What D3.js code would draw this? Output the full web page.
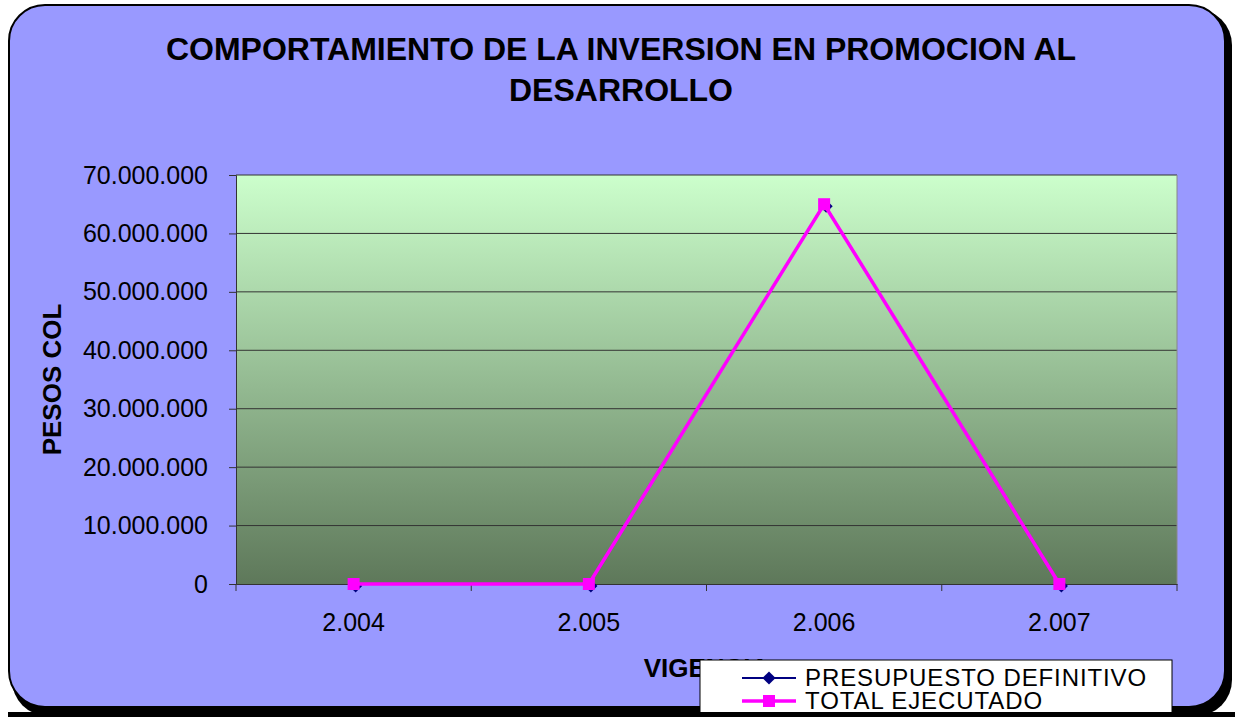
<!DOCTYPE html>
<html>
<head>
<meta charset="utf-8">
<script src="https://cdn.jsdelivr.net/npm/d3@7"></script>
<style>
  html, body { margin: 0; padding: 0; background: #ffffff; }
  svg { display: block; font-family: "Liberation Sans", Arial, sans-serif; }
</style>
</head>
<body>
<svg id="chart" width="1235" height="717"></svg>
<script>
// Inversión en promoción al desarrollo por vigencia
const categories = ["2.004", "2.005", "2.006", "2.007"];
const presupuestoDefinitivo = [0, 0, 65000000, 0];
const totalEjecutado = [0, 0, 65000000, 0];
const yTicks = [0, 10000000, 20000000, 30000000, 40000000, 50000000, 60000000, 70000000];
const seriesNames = ["PRESUPUESTO DEFINITIVO", "TOTAL EJECUTADO"];
const titleLines = ["COMPORTAMIENTO DE LA INVERSION EN PROMOCION AL", "DESARROLLO"];

const svg = d3.select("#chart");
const W = 1235, H = 717;
const plot = { left: 236, right: 1177, top: 175, bottom: 584 };
const FONT = "'Liberation Sans', Arial, sans-serif";

const defs = svg.append("defs");
const grad = defs.append("linearGradient")
  .attr("id", "plotFill").attr("x1", 0).attr("y1", 0).attr("x2", 0).attr("y2", 1);
grad.append("stop").attr("offset", "0%").attr("stop-color", "#ccffcc");
grad.append("stop").attr("offset", "100%").attr("stop-color", "#5e785a");

// chart area frame with drop shadow
svg.append("rect")
  .attr("x", 12).attr("y", 9).attr("width", W - 15).attr("height", H - 10)
  .attr("rx", 36).attr("fill", "#000");
svg.append("rect")
  .attr("x", 9).attr("y", 5).attr("width", W - 19).attr("height", H - 15)
  .attr("rx", 36).attr("fill", "#9999ff").attr("stroke", "#000").attr("stroke-width", 2);

// title
svg.append("g").selectAll("text").data(titleLines).join("text")
  .attr("x", 621).attr("y", (d, i) => 60 + i * 41)
  .attr("text-anchor", "middle")
  .attr("font-size", 32).attr("font-weight", "bold").attr("fill", "#000")
  .text(d => d);

const x = d3.scaleBand().domain(categories).range([plot.left, plot.right]);
const y = d3.scaleLinear().domain([0, 70000000]).range([plot.bottom, plot.top]);

// plot background
svg.append("rect")
  .attr("x", plot.left).attr("y", plot.top)
  .attr("width", plot.right - plot.left).attr("height", plot.bottom - plot.top)
  .attr("fill", "url(#plotFill)");

// gridlines
svg.append("g").selectAll("line").data(yTicks.filter(v => v > 0)).join("line")
  .attr("x1", plot.left).attr("x2", plot.right)
  .attr("y1", d => y(d)).attr("y2", d => y(d))
  .attr("stroke", "#333").attr("stroke-width", 1);

// plot border right side (light)
svg.append("line")
  .attr("x1", plot.right).attr("x2", plot.right).attr("y1", plot.top).attr("y2", plot.bottom)
  .attr("stroke", "#888").attr("stroke-width", 1);

const fmt = v => d3.format(",")(v).replace(/,/g, ".");

// y axis
const yAxis = svg.append("g")
  .attr("transform", `translate(${plot.left},0)`)
  .call(d3.axisLeft(y).tickValues(yTicks).tickFormat(fmt).tickSize(7).tickPadding(21));
yAxis.select(".domain").attr("stroke", "#333");
yAxis.selectAll(".tick line").attr("stroke", "#333");
yAxis.selectAll("text").attr("font-size", 25).attr("fill", "#000").attr("font-family", FONT);

// x axis
const xAxis = svg.append("g")
  .attr("transform", `translate(0,${plot.bottom})`)
  .call(d3.axisBottom(x).tickSize(0).tickPadding(29));
xAxis.select(".domain").attr("stroke", "#333");
xAxis.selectAll("text").attr("font-size", 25).attr("fill", "#000").attr("font-family", FONT);
// category boundary ticks
svg.append("g").selectAll("line")
  .data(categories.map(c => x(c)).concat([plot.right]))
  .join("line")
  .attr("x1", d => d).attr("x2", d => d)
  .attr("y1", plot.bottom).attr("y2", plot.bottom + 7)
  .attr("stroke", "#333");

// axis titles
svg.append("text")
  .attr("transform", `translate(61,${(plot.top + plot.bottom) / 2}) rotate(-90)`)
  .attr("text-anchor", "middle")
  .attr("font-size", 26).attr("font-weight", "bold").text("PESOS COL");
svg.append("text")
  .attr("x", (plot.left + plot.right) / 2).attr("y", 677)
  .attr("text-anchor", "middle")
  .attr("font-size", 26).attr("font-weight", "bold").text("VIGENCIA");

const cx = c => x(c) + x.bandwidth() / 2;
const line = d3.line().x((d, i) => cx(categories[i])).y(d => y(d));

// series 1: presupuesto definitivo
svg.append("path").datum(presupuestoDefinitivo)
  .attr("d", line).attr("fill", "none").attr("stroke", "#000080").attr("stroke-width", 2);
svg.append("g").selectAll("path").data(presupuestoDefinitivo).join("path")
  .attr("d", d3.symbol().type(d3.symbolDiamond2).size(110))
  .attr("transform", (d, i) => `translate(${cx(categories[i]) + 2},${y(d) + 2})`)
  .attr("fill", "#000080");

// series 2: total ejecutado
svg.append("path").datum(totalEjecutado)
  .attr("d", line).attr("fill", "none").attr("stroke", "#ff00ff").attr("stroke-width", 3.5);
svg.append("g").selectAll("rect").data(totalEjecutado).join("rect")
  .attr("x", (d, i) => cx(categories[i]) - 6).attr("y", d => y(d) - 6)
  .attr("width", 12).attr("height", 12).attr("fill", "#ff00ff");

// legend
const legend = svg.append("g").attr("transform", "translate(700,660)");
legend.append("rect").attr("x", 0).attr("y", 0).attr("width", 472).attr("height", 60)
  .attr("fill", "#fff").attr("stroke", "#000").attr("stroke-width", 1);
const rows = legend.selectAll("g").data(seriesNames).join("g")
  .attr("transform", (d, i) => `translate(0,${18 + i * 23})`);
rows.append("line").attr("x1", 42).attr("x2", 96)
  .attr("stroke", (d, i) => i === 0 ? "#000080" : "#ff00ff")
  .attr("stroke-width", (d, i) => i === 0 ? 2 : 3.5);
rows.filter((d, i) => i === 0).append("path")
  .attr("d", d3.symbol().type(d3.symbolDiamond2).size(110))
  .attr("transform", "translate(69,0)").attr("fill", "#000080");
rows.filter((d, i) => i === 1).append("rect")
  .attr("x", 63).attr("y", -6).attr("width", 12).attr("height", 12).attr("fill", "#ff00ff");
rows.append("text").attr("x", 105).attr("y", 8)
  .attr("font-size", 24).attr("letter-spacing", 0.9).attr("fill", "#000").text(d => d);

// frame bottom edge over legend
svg.append("rect").attr("x", 0).attr("y", 712).attr("width", W).attr("height", 5).attr("fill", "#000");
svg.append("rect").attr("x", 0).attr("y", 0).attr("width", 8).attr("height", H).attr("fill", "#fff");
</script>
</body>
</html>
